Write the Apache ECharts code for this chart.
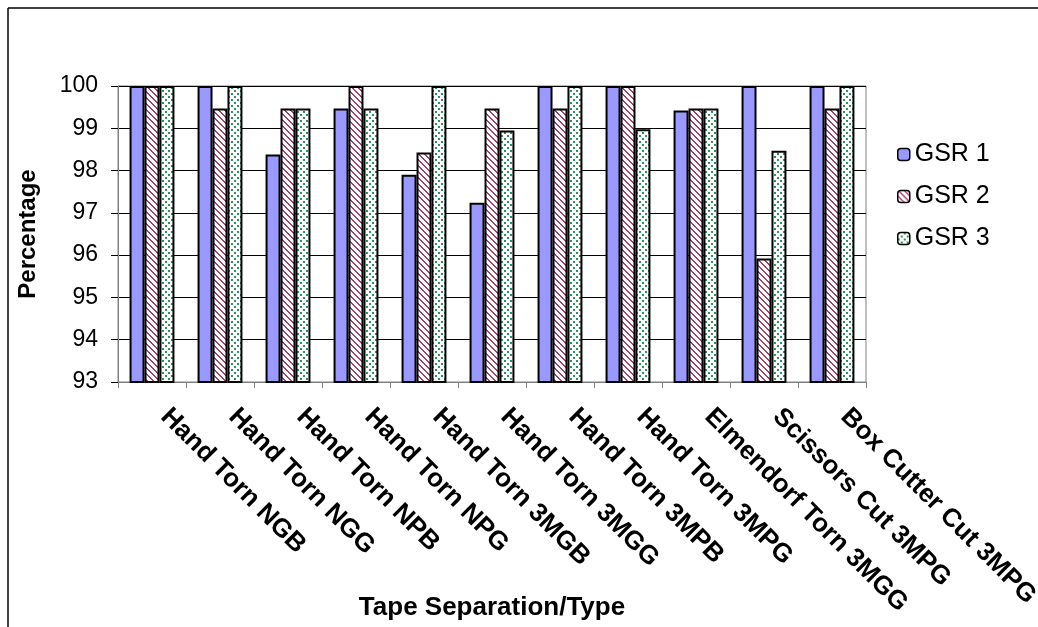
<!DOCTYPE html>
<html>
<head>
<meta charset="utf-8">
<script src="https://cdn.jsdelivr.net/npm/echarts@6/dist/echarts.min.js"></script>
<style>
html,body{margin:0;padding:0;background:#fff;}
#chart{width:1038px;height:627px;}
</style>
</head>
<body>
<div id="chart"></div>
<script>
const categories = ['Hand Torn NGB','Hand Torn NGG','Hand Torn NPB','Hand Torn NPG','Hand Torn 3MGB','Hand Torn 3MGG','Hand Torn 3MPB','Hand Torn 3MPG','Elmendorf Torn 3MGG','Scissors Cut 3MPG','Box Cutter Cut 3MPG'];
const seriesNames = ['GSR 1','GSR 2','GSR 3'];
const gsr1 = [100, 100, 98.38, 99.47, 97.9, 97.24, 100, 100, 99.42, 100, 100];
const gsr2 = [100, 99.47, 99.47, 100, 98.43, 99.47, 99.47, 100, 99.47, 95.92, 99.47];
const gsr3 = [100, 100, 99.47, 99.47, 100, 98.95, 100, 98.98, 99.47, 98.47, 100];
const yTicks = [93, 94, 95, 96, 97, 98, 99, 100];

function stripePattern(){
  const c = document.createElement('canvas');
  c.width = 6; c.height = 6;
  const ctx = c.getContext('2d');
  ctx.fillStyle = '#ffffff'; ctx.fillRect(0,0,6,6);
  ctx.fillStyle = '#a3426f';
  for (let y=0; y<6; y++) for (let x=0; x<6; x++) {
    const d = ((x - y) % 6 + 6) % 6;
    if (d === 0 || d === 1) ctx.fillRect(x,y,1,1);
  }
  return c;
}
function dotPattern(){
  const c = document.createElement('canvas');
  c.width = 6; c.height = 6;
  const ctx = c.getContext('2d');
  ctx.fillStyle = '#ffffff'; ctx.fillRect(0,0,6,6);
  ctx.fillStyle = '#2a9460';
  ctx.fillRect(0,0,2,2);
  ctx.fillRect(3,3,2,2);
  return c;
}

const fills = ['#9999ff', {image: stripePattern(), repeat: 'repeat'}, {image: dotPattern(), repeat: 'repeat'}];
const dataSets = [gsr1, gsr2, gsr3];

const chart = echarts.init(document.getElementById('chart'), null, {renderer: 'canvas'});
const font = 'Liberation Sans, Arial, sans-serif';
chart.setOption({
  animation: false,
  backgroundColor: '#ffffff',
  textStyle: {fontFamily: font},
  graphic: [
    {type: 'line', shape: {x1: 8, y1: 8, x2: 1038, y2: 8}, style: {stroke: '#000', lineWidth: 1.5}},
    {type: 'line', shape: {x1: 8, y1: 8, x2: 8, y2: 627}, style: {stroke: '#000', lineWidth: 1.5}}
  ],
  grid: {left: 118, right: 172, top: 86, bottom: 245, show: true, borderColor: '#808080', borderWidth: 1, backgroundColor: 'transparent', containLabel: false, outerBoundsMode: 'none'},
  legend: {
    orient: 'vertical', left: 892, top: 137,
    itemWidth: 12, itemHeight: 12, itemGap: 17,
    data: seriesNames,
    textStyle: {fontSize: 25, color: '#000', fontFamily: font, lineHeight: 25},
    itemStyle: {borderColor: '#000', borderWidth: 1.5}
  },
  xAxis: {
    type: 'category',
    data: categories,
    name: 'Tape Separation/Type',
    nameLocation: 'middle',
    nameGap: 213,
    nameMoveOverlap: false,
    nameTextStyle: {fontSize: 26, fontWeight: 'bold', color: '#000', fontFamily: font},
    axisLine: {lineStyle: {color: '#808080', width: 1}},
    axisTick: {show: true, length: 6, lineStyle: {color: '#808080'}},
    axisLabel: {rotate: -45, margin: 18, padding: [0,0,0,18], fontSize: 26, fontWeight: 'bold', color: '#000', fontFamily: font, interval: 0},
    splitLine: {show: false}
  },
  yAxis: {
    type: 'value',
    min: 93, max: 100, interval: 1,
    name: 'Percentage',
    nameLocation: 'middle',
    nameGap: 78,
    nameMoveOverlap: false,
    nameTextStyle: {fontSize: 24, fontWeight: 'bold', color: '#000', fontFamily: font},
    axisLine: {show: true, lineStyle: {color: '#808080', width: 1}},
    axisTick: {show: true, length: 7, lineStyle: {color: '#000'}},
    axisLabel: {margin: 20, fontSize: 23, color: '#000', fontFamily: font,
      formatter: v => yTicks.includes(v) ? String(v) : ''},
    splitLine: {show: true, lineStyle: {color: '#000', width: 1}}
  },
  series: dataSets.map((d, i) => ({
    name: seriesNames[i],
    type: 'bar',
    data: d,
    barGap: '0%',
    barCategoryGap: '34%',
    itemStyle: {color: fills[i], borderColor: '#000', borderWidth: 2}
  }))
});
</script>
</body>
</html>
